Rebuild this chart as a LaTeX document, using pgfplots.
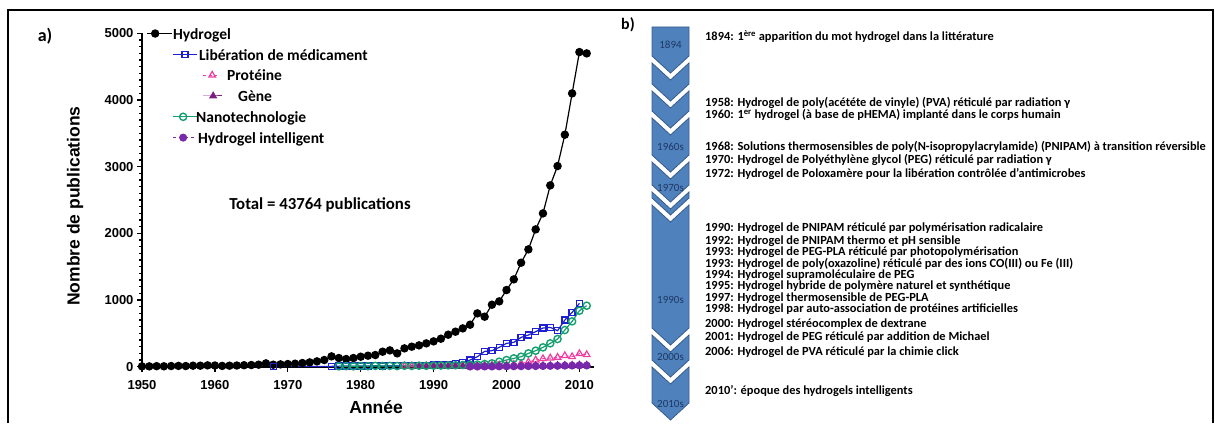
\documentclass[border=0pt]{standalone}
\usepackage{pgfplots}
\pgfplotsset{compat=1.18}
\usepackage{fontspec}
\setmainfont{Carlito}
\newfontfamily\arial{Liberation Sans}

\definecolor{cblue}{RGB}{30,30,210}
\definecolor{cpink}{RGB}{240,60,160}
\definecolor{cpurple}{RGB}{125,30,130}
\definecolor{cgreen}{RGB}{20,160,110}
\definecolor{cviolet}{RGB}{120,40,170}
\definecolor{chev}{RGB}{79,129,189}
\definecolor{chevdark}{RGB}{56,93,138}
\definecolor{chevtext}{RGB}{31,56,100}

% legend samples, shifted like in the original figure
\pgfplotsset{
  img0/.style={legend image code/.code={%
    \draw[mark repeat=2,mark phase=2,##1,overlay] plot coordinates {(0pt,0pt) (8pt,0pt) (25pt,0pt)};}},
  img1/.style={legend image code/.code={%
    \draw[mark repeat=2,mark phase=2,##1,overlay] plot coordinates {(26pt,0pt) (38pt,0pt) (50pt,0pt)};}},
  img2/.style={legend image code/.code={%
    \draw[mark repeat=2,mark phase=2,##1,overlay] plot coordinates {(56pt,0pt) (65pt,0pt) (70pt,0pt)};}},
  img3/.style={legend image code/.code={%
    \draw[mark repeat=2,mark phase=2,##1,overlay] plot coordinates {(56pt,0pt) (66pt,0pt) (75pt,0pt)};}},
  img4/.style={legend image code/.code={%
    \draw[mark repeat=2,mark phase=2,##1,overlay] plot coordinates {(26pt,0pt) (36pt,0pt) (50pt,0pt)};}},
}

% chevron: top sides, bottom sides (px from top)
\newcommand{\chev}[2]{%
  \filldraw[fill=chev, draw=chevdark, line width=0.8pt]
    (652,{423-#1}) -- (670.5,{423-#1-17}) -- (689,{423-#1}) --
    (689,{423-#2}) -- (670.5,{423-#2-17}) -- (652,{423-#2}) -- cycle;}
\newcommand{\ev}[2]{\node[anchor=west, inner sep=0pt, text height=8pt, text depth=2.5pt,
  font=\bfseries\fontsize{12.4}{13}\selectfont] at (705,{423-#1}) {#2};}
\newcommand{\dec}[2]{\node[font=\fontsize{11}{11}\selectfont, text=chevtext] at (670.5,{423-#1}) {#2};}

\begin{document}
\begin{tikzpicture}[x=1pt,y=1pt]
\path[use as bounding box] (0,0) rectangle (1215,423);
\draw[line width=1.8pt] (8,0) -- (8,413) -- (1213,413) -- (1213,0);

\node[font=\bfseries\fontsize{18}{18}\selectfont] at (45,{423-36}) {a)};
\node[font=\bfseries\fontsize{16}{16}\selectfont] at (628,{423-25}) {b)};

\begin{axis}[
  at={(142pt,56.3pt)}, anchor=south west,
  width=452pt, height=333.3pt, scale only axis,
  xmin=1950, xmax=2012, ymin=0, ymax=5000,
  axis lines=left, axis line style={-, line width=1.6pt},
  clip=false,
  xtick={1950,1960,...,2010}, ytick={0,1000,...,5000},
  minor y tick num=9,
  tick align=outside, major tick length=5pt, minor tick length=3pt,
  tick style={line width=1.2pt, black},
  /pgf/number format/1000 sep={}, /pgf/number format/assume math mode=true,
  ticklabel style={font=\arial\bfseries\fontsize{13}{13}\selectfont},
  xticklabel style={yshift=-5pt},
  xlabel={Année}, ylabel={Nombre de publications},
  every axis x label/.style={at={(axis description cs:0.518,-0.121)}, anchor=center,
    font=\arial\bfseries\fontsize{17.5}{17.5}\selectfont},
  every axis y label/.style={at={(axis description cs:-0.148,0.482)}, anchor=center, rotate=90,
    font=\arial\bfseries\fontsize{17.5}{17.5}\selectfont},
  legend style={draw=none, fill=none, inner sep=0pt,
    at={(axis description cs:0.011,1.022)}, anchor=north west,
    font=\bfseries\fontsize{15.5}{18.6}\selectfont,
    row sep=6.3pt, column sep=26pt, nodes={inner sep=0pt}},
  legend cell align=left,
]
\addplot[black, line width=1.2pt, mark=*, mark size=3.6pt, img0] coordinates {
(1950,5) (1951,5) (1952,8) (1953,6) (1954,10) (1955,12) (1956,10) (1957,15) (1958,15) (1959,20)
(1960,18) (1961,12) (1962,15) (1963,18) (1964,22) (1965,25) (1966,30) (1967,50) (1968,30) (1969,35)
(1970,40) (1971,45) (1972,55) (1973,65) (1974,80) (1975,100) (1976,155) (1977,130) (1978,115) (1979,130)
(1980,150) (1981,165) (1982,175) (1983,225) (1984,245) (1985,200) (1986,275) (1987,300) (1988,320) (1989,350)
(1990,380) (1991,420) (1992,480) (1993,525) (1994,575) (1995,630) (1996,800) (1997,750) (1998,930) (1999,980)
(2000,1150) (2001,1310) (2002,1560) (2003,1760) (2004,2060) (2005,2300) (2006,2720) (2007,3010) (2008,3480) (2009,4100)
(2010,4720) (2011,4700)};
\addlegendentry{\strut Hydrogel}

\addplot[cblue, line width=1.2pt, mark=square, mark size=3pt, mark options={line width=1.4pt}, img1] coordinates {
(1968,2) (1976,5) (1977,8) (1978,10) (1979,8) (1980,12) (1981,10) (1982,15) (1983,12) (1984,15)
(1985,18) (1986,15) (1987,20) (1988,18) (1989,22) (1990,25) (1991,28) (1992,35) (1993,45) (1994,60)
(1995,100) (1996,150) (1997,230) (1998,240) (1999,290) (2000,350) (2001,365) (2002,440) (2003,475) (2004,525)
(2005,580) (2006,590) (2007,540) (2008,700) (2009,815) (2010,950)};
\addlegendentry{\hspace{26pt}\strut Libération de médicament}

\addplot[cpink, dashed, line width=1pt, mark=triangle, mark size=3.8pt, mark options={solid, line width=1.2pt}, img2] coordinates {
(1986,8) (1987,5) (1988,6) (1989,8) (1990,6) (1991,8) (1992,10) (1993,10) (1994,12) (1995,14)
(1996,15) (1997,18) (1998,20) (1999,22) (2000,25) (2001,35) (2002,50) (2003,70) (2004,100) (2005,120)
(2006,130) (2007,140) (2008,165) (2009,150) (2010,195) (2011,180)};
\addlegendentry{\hspace{54pt}\strut Protéine}

\addplot[cpurple, line width=1pt, mark=triangle*, mark size=3.8pt, img3] coordinates {
(1988,2) (1989,2) (1990,3) (1991,3) (1992,4) (1993,5) (1994,5) (1995,6) (1996,7) (1997,8)
(1998,9) (1999,10) (2000,11) (2001,12) (2002,13) (2003,14) (2004,15) (2005,17) (2006,18) (2007,20)
(2008,21) (2009,22) (2010,25) (2011,24)};
\addlegendentry{\hspace{65pt}\strut Gène}

\addplot[cgreen, line width=1.2pt, mark=o, mark size=3.6pt, mark options={line width=1.4pt}, img4] coordinates {
(1977,5) (1978,8) (1979,6) (1980,10) (1981,8) (1982,12) (1983,10) (1984,12) (1985,10) (1986,15)
(1987,12) (1988,15) (1989,14) (1990,16) (1991,18) (1992,20) (1993,22) (1994,25) (1995,28) (1996,32)
(1997,40) (1998,50) (1999,75) (2000,100) (2001,125) (2002,150) (2003,200) (2004,240) (2005,290) (2006,350)
(2007,415) (2008,550) (2009,680) (2010,840) (2011,915)};
\addlegendentry{\hspace{23pt}\strut Nanotechnologie}

\addplot[cviolet, dashed, line width=1pt, mark=*, mark size=3.5pt, mark options={solid}, img4] coordinates {
(1995,2) (1996,2) (1997,3) (1998,3) (1999,4) (2000,5) (2001,6) (2002,7) (2003,8) (2004,9)
(2005,10) (2006,12) (2007,13) (2008,15) (2009,17) (2010,19) (2011,18)};
\addlegendentry{\hspace{25pt}\strut Hydrogel intelligent}
\end{axis}

\node[font=\bfseries\fontsize{16.8}{16.8}\selectfont] at (320,{423-205}) {Total = 43764 publications};

% panel b: timeline
\filldraw[fill=chev, draw=chevdark, line width=0.8pt]
  (652,{423-27}) -- (689,{423-27}) -- (689,{423-56}) -- (670.5,{423-73}) -- (652,{423-56}) -- cycle;
\chev{63}{84}
\chev{91}{111}
\chev{118}{155}
\chev{162}{185}
\chev{192}{198}
\chev{205}{328}
\chev{335}{360}
\chev{367}{403}

\dec{45}{1894}
\dec{147}{1960s}
\dec{188}{1970s}
\dec{300}{1990s}
\dec{357}{2000s}
\dec{404}{2010s}

\ev{38}{1894: 1\textsuperscript{ère} apparition du mot hydrogel dans la littérature}
\ev{104}{1958: Hydrogel de poly(acététe de vinyle) (PVA) réticulé par radiation γ}
\ev{116}{1960: 1\textsuperscript{er} hydrogel (à base de pHEMA) implanté dans le corps humain}
\ev{148}{1968: Solutions thermosensibles de poly(N-isopropylacrylamide) (PNIPAM) à transition réversible}
\ev{161}{1970: Hydrogel de Polyéthylène glycol (PEG) réticulé par radiation γ}
\ev{175}{1972: Hydrogel de Poloxamère pour la libération contrôlée d’antimicrobes}
\ev{229}{1990: Hydrogel de PNIPAM réticulé par polymérisation radicalaire}
\ev{242}{1992: Hydrogel de PNIPAM thermo et pH sensible}
\ev{253}{1993: Hydrogel de PEG-PLA réticulé par photopolymérisation}
\ev{265}{1993: Hydrogel de poly(oxazoline) réticulé par des ions CO(III) ou Fe (III)}
\ev{276}{1994: Hydrogel supramoléculaire de PEG}
\ev{287}{1995: Hydrogel hybride de polymère naturel et synthétique}
\ev{299}{1997: Hydrogel thermosensible de PEG-PLA}
\ev{310}{1998: Hydrogel par auto-association de protéines artificielles}
\ev{325}{2000: Hydrogel stéréocomplex de dextrane}
\ev{338}{2001: Hydrogel de PEG réticulé par addition de Michael}
\ev{353}{2006: Hydrogel de PVA réticulé par la chimie click}
\ev{392}{2010’: époque des hydrogels intelligents}
\end{tikzpicture}
\end{document}
